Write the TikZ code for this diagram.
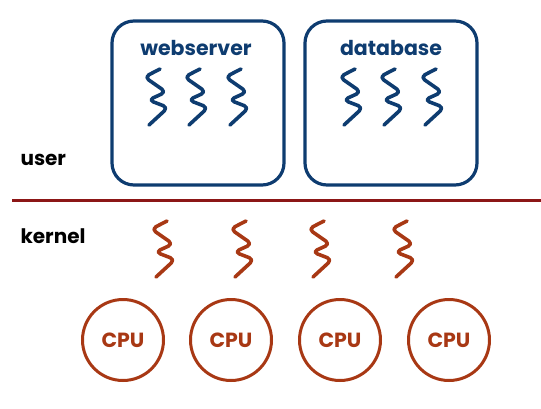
\documentclass[tikz,border=0pt]{standalone}
\usepackage{fontspec}
\setmainfont{Poppins}
\definecolor{boxblue}{RGB}{14,60,112}
\definecolor{cpured}{RGB}{168,56,20}
\definecolor{linered}{RGB}{140,22,22}
\begin{document}
\begin{tikzpicture}[x=1pt,y=-1pt,
  appbox/.style={draw=boxblue,line width=3.2pt,rounded corners=22pt},
  apptitle/.style={text=boxblue,font=\bfseries\fontsize{20.5}{23}\selectfont,anchor=center},
  sidelabel/.style={text=black,font=\bfseries\fontsize{20}{23}\selectfont,anchor=west},
  cpu/.style={circle,draw=cpured,line width=3pt,minimum size=81pt,inner sep=0pt,text=cpured,font=\bfseries\fontsize{20.5}{23}\selectfont},
  squig/.style={line width=3.6pt,line cap=round,line join=round,rounded corners=5pt}]
\useasboundingbox (0,0) rectangle (541,408);
% boxes
\draw[appbox] (112,21) rectangle (284,185);
\draw[appbox] (305,21) rectangle (477,185);
\node[apptitle] (web) at (196,48) {webserver};
\node[apptitle] (db) at (391,48) {database};
% thread squiggle
\tikzset{thread/.pic={
  \draw[squig,pic actions] (4,1) -- (-11.5,9) -- (10,24) -- (-7.5,32) -- (12,39.5) -- (-7,57);
}}
\foreach \x in {156,196,237} \pic[draw=boxblue] at (\x,68) {thread};
\foreach \x in {351,391,432} \pic[draw=boxblue] at (\x,68) {thread};
\foreach \x in {163,242,320,403} \pic[draw=cpured] at (\x,220) {thread};
% divider
\coordinate (la) at (12,200);
\coordinate (lb) at (541,200);
\draw[linered,line width=3pt] (la) -- (lb);
\node[sidelabel] (user) at (17,160) {user};
\node[sidelabel] (kernel) at (17,236) {kernel};
% CPUs
\node[cpu] (c1) at (123,340) {CPU};
\node[cpu] (c2) at (231,340) {CPU};
\node[cpu] (c3) at (340,340) {CPU};
\node[cpu] (c4) at (449,340) {CPU};
\end{tikzpicture}
\end{document}
